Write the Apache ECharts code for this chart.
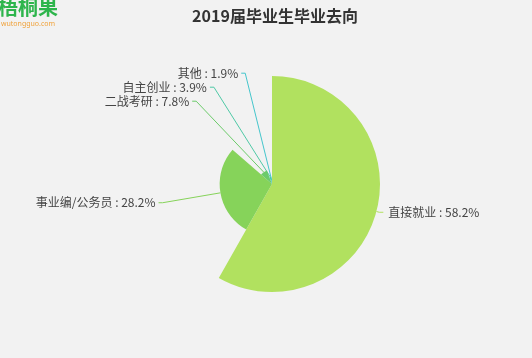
<!DOCTYPE html>
<html>
<head>
<meta charset="utf-8">
<script src="https://cdn.jsdelivr.net/npm/echarts@6/dist/echarts.min.js"></script>
<style>
html,body{margin:0;padding:0;background:#f2f2f2;}
#main{width:532px;height:358px;}
</style>
</head>
<body>
<div id="main"></div>
<script>
const titleText = '2019届毕业生毕业去向';
const categories = ['直接就业', '事业编/公务员', '二战考研', '自主创业', '其他'];
const values = [58.2, 28.2, 7.8, 3.9, 1.9];
const colors = ['#b1e15f', '#86d35a', '#6ccb6a', '#4fc9a6', '#45c6cc'];

const CX = 272, CY = 184, R = 108, LEN1 = 3, LEN2 = 4, GAP = 3;

const chart = echarts.init(document.getElementById('main'), null, {renderer: 'canvas'});
const data = categories.map((name, i) => ({
  name: name,
  value: values[i],
  itemStyle: {color: colors[i]},
  labelLine: {lineStyle: {color: colors[i]}}
}));

chart.setOption({
  backgroundColor: '#f2f2f2',
  animation: false,
  title: {
    text: titleText,
    left: 270,
    textAlign: 'center',
    top: 3,
    textStyle: {fontSize: 16, fontWeight: 'bold', color: '#333', fontFamily: 'Noto Sans CJK SC'}
  },
  graphic: [
    {type: 'text', left: -2, top: -3, style: {text: '梧桐果', fontSize: 20, fontWeight: 'bold', fill: '#2db54c', fontFamily: 'Noto Sans CJK SC'}},
    {type: 'text', left: 1, top: 20, style: {text: 'wutongguo.com', fontSize: 7, fill: '#f0a23a', fontFamily: 'Noto Sans'}}
  ],
  series: [{
    type: 'pie',
    roseType: 'radius',
    center: [CX, CY],
    radius: [0, R],
    startAngle: 90,
    clockwise: true,
    data: data,
    label: {
      formatter: '{b} : {c}%',
      fontSize: 12,
      lineHeight: 12,
      color: '#444',
      fontFamily: 'Noto Sans CJK SC'
    },
    labelLine: {length: LEN1, length2: LEN2, smooth: false},
    labelLayout: function (params) {
      const rect = params.labelRect;
      const pts = params.labelLinePoints;
      if (!pts) return {};
      const isLeft = rect.x + rect.width / 2 < CX;
      if (!isLeft) return {};
      const y = pts[1][1];
      const dy = Math.abs(y - CY);
      const R3 = R + LEN1 + LEN2;
      if (dy >= R3) return {};
      const x3 = CX - Math.sqrt(R3 * R3 - dy * dy);
      const newPts = [pts[0].slice(), [x3 + LEN2, y], [x3, y]];
      return {
        x: x3 - GAP,
        y: y,
        align: 'right',
        verticalAlign: 'middle',
        labelLinePoints: newPts
      };
    }
  }]
});
</script>
</body>
</html>
